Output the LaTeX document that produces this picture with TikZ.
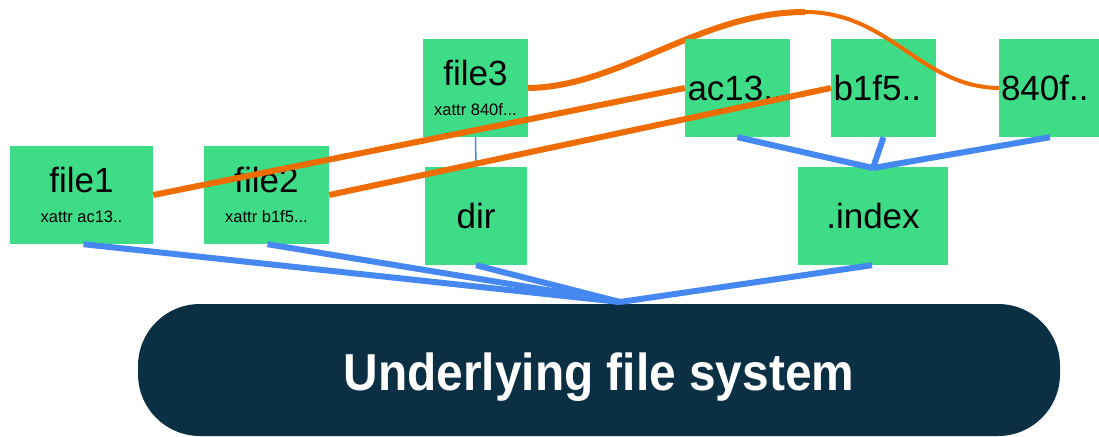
\documentclass[tikz,border=0pt]{standalone}
\usepackage{fontspec}
\setmainfont{Liberation Sans}
\definecolor{boxgreen}{HTML}{3FDC87}
\definecolor{navy}{HTML}{0B3044}
\definecolor{orng}{HTML}{EE6C00}
\definecolor{blu}{HTML}{4688F1}
\tikzset{
  gbox/.style={fill=boxgreen, draw=none, inner sep=0pt, align=center, font=\fontsize{35}{38}\selectfont},
  blink/.style={draw=blu, line width=6pt},
  olink/.style={draw=orng, line width=6pt}
}
\newcommand{\sm}[1]{{\fontsize{16.5}{18}\selectfont #1}}
\begin{document}
\begin{tikzpicture}[x=1pt,y=-1pt]
\useasboundingbox (0,0) rectangle (1099,436);
% base
\node[fill=navy, rounded corners=62pt, minimum width=922pt, minimum height=132pt, inner sep=0pt,
  text height=44pt, text depth=4pt,
  text=white, font=\bfseries\fontsize{52}{56}\selectfont] (fs) at (599,370) {\scalebox{0.92}[1]{Underlying file system}};
\coordinate (peak) at (805,12);
% boxes
\node[gbox, minimum width=143pt, minimum height=98pt] (file1) at (81.5,195) {file1\\[-8pt]\sm{xattr ac13..}};
\node[gbox, minimum width=125pt, minimum height=98pt] (file2) at (266.5,195) {file2\\[-8pt]\sm{xattr b1f5...}};
\node[gbox, minimum width=105pt, minimum height=98pt] (file3) at (475.5,88) {file3\\[-8pt]\sm{xattr 840f...}};
\node[gbox, minimum width=102pt, minimum height=98pt] (dir) at (476,216) {dir};
\node[gbox, minimum width=150pt, minimum height=98pt] (index) at (873,216) {.index};
\draw[olink] (file3.east) .. controls (620,87) and (700,12) .. (peak);
\node[gbox, minimum width=105pt, minimum height=98pt, text width=100pt, align=left] (ac13) at (737.5,88) {ac13..};
\node[gbox, minimum width=105pt, minimum height=98pt, text width=100pt, align=left] (b1f5) at (883.5,88) {b1f5..};
\node[gbox, minimum width=102pt, minimum height=98pt, text width=98pt, align=left] (f840) at (1050,88) {840f..};
\draw[orng, line width=4pt] (peak) .. controls (890,12) and (920,87) .. (f840.west);
% blue links
\draw[blu, line width=1.5pt] (file3.south) -- (dir.north);
\coordinate (hub) at (620,302);
\coordinate (ihub) at (873,168);
\draw[blink] ([xshift=2pt]file1.south) -- (hub);
\draw[blink] ([xshift=1pt]file2.south) -- (hub);
\draw[blink] (dir.south) -- (hub);
\draw[blink] ([xshift=-1pt]index.south) -- (hub);
\draw[blink] (ac13.south) -- (ihub);
\draw[blink] (b1f5.south) -- (ihub);
\draw[blink] (f840.south) -- (ihub);
% orange links
\draw[olink] (file1.east) -- (ac13.west);
\draw[olink] (file2.east) -- (b1f5.west);
\end{tikzpicture}
\end{document}
